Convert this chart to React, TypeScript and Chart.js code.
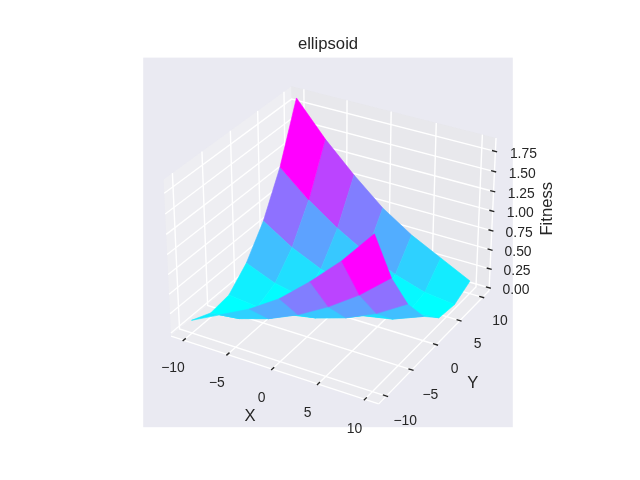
import React, { useEffect, useRef } from "react";
import { Chart, registerables } from "chart.js";

Chart.register(...registerables);

const xGrid = [-10, -6.667, -3.333, 0, 3.333, 6.667, 10];
const yGrid = [-10, -6.667, -3.333, 0, 3.333, 6.667, 10];
// fitness, one row per yGrid entry, one column per xGrid entry
const fitnessRows = [
  [0.127, 0.318, 0.51, 0.757, 1.083, 1.447, 1.875],
  [0.016, 0.062, 0.181, 0.35, 0.57, 0.834, 1.159],
  [0.049, 0.01, 0.03, 0.103, 0.225, 0.397, 0.636],
  [0.274, 0.12, 0.045, 0.02, 0.045, 0.12, 0.274],
  [0.636, 0.397, 0.225, 0.103, 0.03, 0.01, 0.049],
  [1.159, 0.834, 0.57, 0.35, 0.181, 0.062, 0.016],
  [1.875, 1.447, 1.083, 0.757, 0.51, 0.318, 0.127],
];
const xTicks = [-10, -5, 0, 5, 10];
const yTicks = [-10, -5, 0, 5, 10];
const zTicks = [0, 0.25, 0.5, 0.75, 1, 1.25, 1.5, 1.75];
const xLimits = [-11, 11];
const yLimits = [-11, 11];
const zLimits = [0, 1.875];
const titleText = "ellipsoid";
const xTitle = "X";
const yTitle = "Y";
const zTitle = "Fitness";

const INK = "#262626";
const FONT = '"Liberation Sans", Arial, sans-serif';

// --- mplot3d style camera ---
const ELEV = (30 * Math.PI) / 180;
const AZIM = (-60 * Math.PI) / 180;
const DIST = 10;
const BOX_XY = 1.1429;
const BOX_Z = 0.8571;
const N = [Math.cos(ELEV) * Math.cos(AZIM), Math.cos(ELEV) * Math.sin(AZIM), Math.sin(ELEV)];
const U = [-N[1] / Math.cos(ELEV), N[0] / Math.cos(ELEV), 0];
const V = [
  N[1] * U[2] - N[2] * U[1],
  N[2] * U[0] - N[0] * U[2],
  N[0] * U[1] - N[1] * U[0],
];

function project(x: number, y: number, z: number) {
  const d = [
    ((x - xLimits[0]) / (xLimits[1] - xLimits[0]) - 0.5) * BOX_XY,
    ((y - yLimits[0]) / (yLimits[1] - yLimits[0]) - 0.5) * BOX_XY,
    ((z - zLimits[0]) / (zLimits[1] - zLimits[0]) - 0.5) * BOX_Z,
  ];
  const dot = (a: number[]) => a[0] * d[0] + a[1] * d[1] + a[2] * d[2];
  const w = DIST - dot(N);
  return { x: dot(U) / w, y: dot(V) / w, depth: w };
}

const dX = (xLimits[1] - xLimits[0]) / 12;
const dY = (yLimits[1] - yLimits[0]) / 12;
const dZ = (zLimits[1] - zLimits[0]) / 12;
const xLo = xLimits[0] - dX / 4;
const xHi = xLimits[1] + dX / 4;
const yLo = yLimits[0] - dY / 4;
const yHi = yLimits[1] + dY / 4;
const zLo = zLimits[0] - dZ / 4;
const zHi = zLimits[1] + dZ / 4;

type P3 = [number, number, number];
const path = (pts: P3[]) => pts.map((p) => { const q = project(p[0], p[1], p[2]); return { x: q.x, y: q.y }; });

function line(pts: P3[], color: string, width: number) {
  return {
    type: "scatter" as const,
    data: path(pts),
    showLine: true,
    borderColor: color,
    borderWidth: width,
    pointRadius: 0,
    tension: 0,
    clip: false,
  };
}
function poly(pts: P3[], color: string, edge = 0) {
  return {
    type: "scatter" as const,
    data: path([...pts, pts[0]]),
    showLine: edge > 0,
    polygon: true,
    backgroundColor: color,
    borderColor: color,
    borderWidth: edge,
    pointRadius: 0,
    tension: 0,
    clip: false,
  };
}

function buildDatasets() {
  const out: any[] = [];
  // panes
  out.push(poly([[xLo, yLo, zLo], [xLo, yHi, zLo], [xLo, yHi, zHi], [xLo, yLo, zHi]], "rgba(242,242,242,0.5)"));
  out.push(poly([[xLo, yHi, zLo], [xHi, yHi, zLo], [xHi, yHi, zHi], [xLo, yHi, zHi]], "rgba(230,230,230,0.5)"));
  out.push(poly([[xLo, yLo, zLo], [xHi, yLo, zLo], [xHi, yHi, zLo], [xLo, yHi, zLo]], "rgba(236,236,236,0.5)"));
  // axis edges
  out.push(line([[xLo, yLo, zLo], [xHi, yLo, zLo]], "#ffffff", 1.39));
  out.push(line([[xHi, yLo, zLo], [xHi, yHi, zLo]], "#ffffff", 1.39));
  out.push(line([[xHi, yHi, zLo], [xHi, yHi, zHi]], "#ffffff", 1.39));
  // grid
  for (const t of xTicks) out.push(line([[t, yLo, zLo], [t, yHi, zLo], [t, yHi, zHi]], "#ffffff", 1.39));
  for (const t of yTicks) out.push(line([[xHi, t, zLo], [xLo, t, zLo], [xLo, t, zHi]], "#ffffff", 1.39));
  for (const t of zTicks) out.push(line([[xLo, yLo, t], [xLo, yHi, t], [xHi, yHi, t]], "#ffffff", 1.39));
  // tick marks
  for (const t of xTicks) out.push(line([[t, yLo - 0.1 * dY, zLo], [t, yLo + 0.2 * dY, zLo]], INK, 1.39));
  for (const t of yTicks) out.push(line([[xHi + 0.1 * dX, t, zLo], [xHi - 0.2 * dX, t, zLo]], INK, 1.39));
  for (const t of zTicks) out.push(line([[xHi + 0.1 * dX, yHi, t], [xHi - 0.2 * dX, yHi, t]], INK, 1.39));
  // surface
  const cells: { pts: P3[]; avg: number; depth: number }[] = [];
  for (let j = 0; j < yGrid.length - 1; j++) {
    for (let i = 0; i < xGrid.length - 1; i++) {
      const pts: P3[] = [
        [xGrid[i], yGrid[j], fitnessRows[j][i]],
        [xGrid[i + 1], yGrid[j], fitnessRows[j][i + 1]],
        [xGrid[i + 1], yGrid[j + 1], fitnessRows[j + 1][i + 1]],
        [xGrid[i], yGrid[j + 1], fitnessRows[j + 1][i]],
      ];
      const avg = pts.reduce((s, p) => s + p[2], 0) / 4;
      const depth = pts.reduce((s, p) => s + -10 / project(p[0], p[1], p[2]).depth, 0) / 4;
      cells.push({ pts, avg, depth });
    }
  }
  const lo = Math.min(...cells.map((c) => c.avg));
  const hi = Math.max(...cells.map((c) => c.avg));
  cells.sort((a, b) => b.depth - a.depth);
  for (const c of cells) {
    const t = (c.avg - lo) / (hi - lo);
    out.push(poly(c.pts, `rgb(${Math.round(255 * t)},${Math.round(255 * (1 - t))},255)`, 0.6));
  }
  return out.reverse(); // Chart.js paints dataset 0 last
}

const fmtInt = (v: number) => (v < 0 ? "\u2212" + Math.abs(v) : String(v));

const polygonPlugin = {
  id: "polygonFill",
  beforeDatasetsDraw(chart: any) {
    const { ctx, chartArea: a } = chart;
    ctx.save();
    ctx.fillStyle = "#EAEAF2";
    ctx.fillRect(a.left, a.top, a.right - a.left, a.bottom - a.top);
    ctx.restore();
  },
  beforeDatasetDraw(chart: any, args: any) {
    const ds = chart.data.datasets[args.index];
    if (!ds.polygon) return;
    const pts = args.meta.data;
    const ctx = chart.ctx;
    ctx.save();
    ctx.beginPath();
    pts.forEach((p: any, i: number) => (i ? ctx.lineTo(p.x, p.y) : ctx.moveTo(p.x, p.y)));
    ctx.closePath();
    ctx.fillStyle = ds.backgroundColor;
    ctx.fill();
    ctx.restore();
  },
  afterDraw(chart: any) {
    const { ctx, scales } = chart;
    const put = (p: P3, text: string, px: number, rot = 0, ox = 0, oy = 0) => {
      const q = project(p[0], p[1], p[2]);
      ctx.save();
      ctx.translate(scales.x.getPixelForValue(q.x) + ox, scales.y.getPixelForValue(q.y) + oy);
      ctx.rotate(rot);
      ctx.font = `${px}px ${FONT}`;
      ctx.fillStyle = INK;
      ctx.textAlign = "center";
      ctx.textBaseline = "middle";
      ctx.fillText(text, 0, 0);
      ctx.restore();
    };
    const f = 1.155;
    for (const t of xTicks) put([t, yLo - f * dY, zLo - f * dZ], fmtInt(t), 13.89, 0, 1, 4);
    for (const t of yTicks) put([xHi + f * dX, t, zLo - f * dZ], fmtInt(t), 13.89, 0, -1, 4.5);
    for (const t of zTicks) put([xHi + 1.39 * dX, yHi + 0.49 * dY, t], t.toFixed(2), 13.89);
    const g = 2.2;
    put([0, yLo - g * dY, zLo - g * dZ], xTitle, 16.67);
    put([xHi + g * dX, 0, zLo - g * dZ], yTitle, 16.67, 0, 0, 1);
    put([xHi + g * dX, yHi + g * dY, (zLimits[0] + zLimits[1]) / 2], zTitle, 16.67, -Math.PI / 2);
  },
};

export default function App() {
  const ref = useRef<HTMLCanvasElement>(null);
  useEffect(() => {
    if (!ref.current) return;
    const chart = new Chart(ref.current, {
      type: "scatter",
      data: { datasets: buildDatasets() },
      plugins: [polygonPlugin],
      options: {
        animation: false,
        responsive: false,
        layout: { padding: { left: 143.2, right: 127.2, top: 0, bottom: 52.8 } },
        scales: {
          x: { type: "linear", display: false, min: -0.095, max: 0.09 },
          y: { type: "linear", display: false, min: -0.095, max: 0.09 },
        },
        plugins: {
          legend: { display: false },
          tooltip: { enabled: false },
          title: {
            display: true,
            text: titleText,
            color: INK,
            font: { family: FONT, size: 16.67, weight: "normal", lineHeight: 1.2 },
            padding: { top: 34, bottom: 3.6 },
          },
        },
      },
    } as any);
    return () => chart.destroy();
  }, []);
  return (
    <div style={{ position: "fixed", left: 0, top: 0, width: 640, height: 480, background: "#fff" }}>
      <canvas ref={ref} width={640} height={480} style={{ display: "block" }} />
    </div>
  );
}
